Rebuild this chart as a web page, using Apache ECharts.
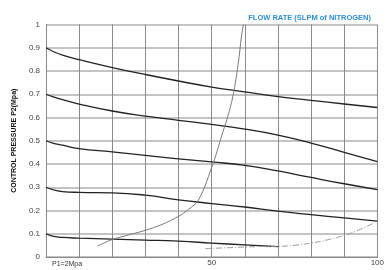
<!DOCTYPE html>
<html>
<head>
<meta charset="utf-8">
<script src="https://cdn.jsdelivr.net/npm/echarts@6/dist/echarts.min.js"></script>
<style>
  html, body { margin: 0; padding: 0; background: #fff; }
  #main { width: 387px; height: 270px; }
</style>
</head>
<body>
<div id="main"></div>
<script>
// flow rate (SLPM) sample points
var flowX = [0, 2, 5, 10, 20, 30, 40, 50, 60, 70, 80, 90, 100];
// control pressure curves, P1 = 2Mpa
var p09 = [0.9, 0.885, 0.868, 0.849, 0.815, 0.785, 0.757, 0.731, 0.71, 0.69, 0.674, 0.658, 0.643];
var p07 = [0.7, 0.69, 0.677, 0.658, 0.628, 0.606, 0.588, 0.57, 0.55, 0.524, 0.49, 0.45, 0.41];
var p05 = [0.5, 0.49, 0.481, 0.466, 0.452, 0.437, 0.422, 0.409, 0.394, 0.37, 0.342, 0.315, 0.29];
var p03 = [0.3, 0.29, 0.281, 0.278, 0.276, 0.266, 0.246, 0.23, 0.215, 0.197, 0.182, 0.168, 0.154];
var lowX = [0, 2, 5, 10, 20, 30, 40, 50, 60, 70];
var p01 = [0.1, 0.09, 0.084, 0.081, 0.077, 0.073, 0.068, 0.06, 0.052, 0.045];
// dash-dot limit line at the bottom right
var dashX = [48, 55, 60, 65, 70, 75, 80, 85, 90, 95, 100];
var dashY = [0.036, 0.04, 0.043, 0.045, 0.046, 0.05, 0.06, 0.074, 0.093, 0.12, 0.154];
// thin gray limit curve
var limX = [15.5, 20, 25, 30, 35, 40, 43, 46, 50, 53, 56, 58, 59, 59.6];
var limY = [0.047, 0.075, 0.095, 0.115, 0.14, 0.175, 0.205, 0.245, 0.385, 0.52, 0.665, 0.83, 0.95, 1.0];
var xLabels = [50, 100];

function pairs(xs, ys) {
  return xs.map(function (x, i) { return [x, ys[i]]; });
}

var myChart = echarts.init(document.getElementById('main'));

var blackLine = { color: '#222', width: 1.3 };

var option = {
  animation: false,
  title: {
    text: 'FLOW RATE (SLPM of NITROGEN)',
    right: 11,
    top: 9,
    textStyle: {
      color: '#2b8fd8',
      fontWeight: 'bold',
      fontSize: 7.5,
      fontFamily: 'Liberation Sans'
    }
  },
  grid: { left: 46, right: 9, top: 24.5, bottom: 13 },
  xAxis: {
    type: 'value',
    min: 0,
    max: 100,
    interval: 10,
    axisLine: { show: true, lineStyle: { color: '#888', width: 1 } },
    axisTick: { show: false },
    axisLabel: {
      margin: 2,
      color: '#444',
      fontSize: 8,
      fontFamily: 'Liberation Sans',
      formatter: function (v) { return xLabels.indexOf(v) >= 0 ? String(v) : ''; }
    },
    splitLine: { show: true, lineStyle: { color: '#8a8a8a', width: 1 } }
  },
  yAxis: {
    type: 'value',
    min: 0,
    max: 1,
    interval: 0.1,
    name: 'CONTROL PRESSURE P2(Mpa)',
    nameLocation: 'middle',
    nameGap: 22,
    nameTextStyle: {
      color: '#111',
      fontWeight: 'bold',
      fontSize: 7,
      fontFamily: 'Liberation Sans'
    },
    axisLine: { show: true, lineStyle: { color: '#888', width: 1 } },
    axisTick: { show: false },
    axisLabel: {
      margin: 6,
      color: '#444',
      fontSize: 8,
      fontFamily: 'Liberation Sans',
      formatter: function (v) {
        var r = Math.round(v * 10) / 10;
        return (r === 0 || r === 1) ? String(r) : r.toFixed(1);
      }
    },
    splitLine: { show: true, lineStyle: { color: '#c4c4c4', width: 2 } }
  },
  graphic: [{
    type: 'text',
    left: 52,
    top: 261,
    style: { text: 'P1=2Mpa', fill: '#333', fontSize: 7, fontFamily: 'Liberation Sans' }
  }],
  series: [
    { type: 'line', data: pairs(flowX, p09), smooth: true, symbol: 'none', lineStyle: blackLine },
    { type: 'line', data: pairs(flowX, p07), smooth: true, symbol: 'none', lineStyle: blackLine },
    { type: 'line', data: pairs(flowX, p05), smooth: true, symbol: 'none', lineStyle: blackLine },
    { type: 'line', data: pairs(flowX, p03), smooth: true, symbol: 'none', lineStyle: blackLine },
    { type: 'line', data: pairs(lowX, p01), smooth: true, symbol: 'none', lineStyle: blackLine },
    {
      type: 'line', data: pairs(dashX, dashY), smooth: true, symbol: 'none',
      lineStyle: { color: '#999', width: 1, type: [6, 2, 1, 2] }
    },
    {
      type: 'line', data: pairs(limX, limY), smooth: 0.4, symbol: 'none',
      lineStyle: { color: '#7a7a7a', width: 1 }
    }
  ]
};

myChart.setOption(option);
</script>
</body>
</html>
